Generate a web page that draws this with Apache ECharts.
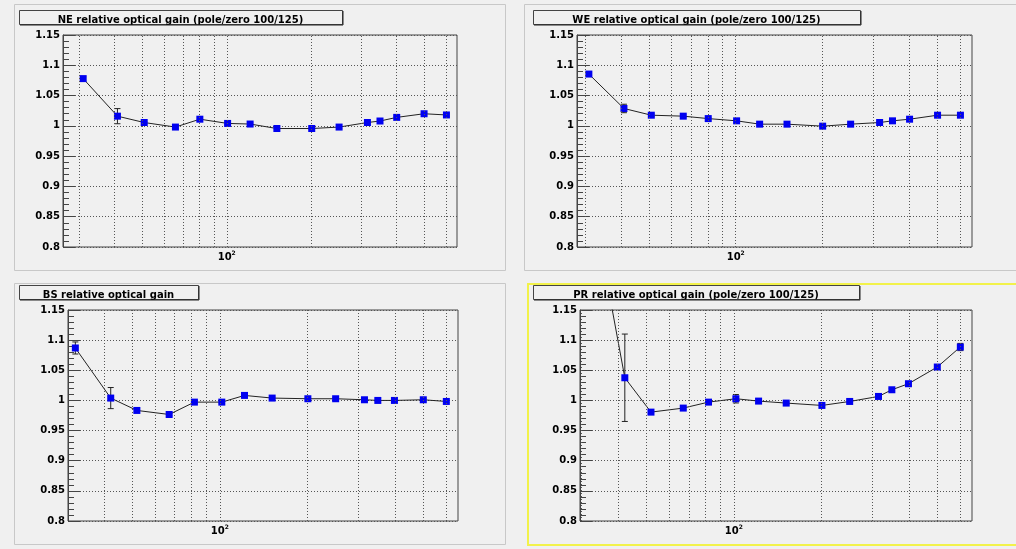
<!DOCTYPE html>
<html><head><meta charset="utf-8">
<script src="https://cdn.jsdelivr.net/npm/echarts@6/dist/echarts.min.js"></script>
<style>html,body{margin:0;padding:0;background:#f0f0f0}#c{width:1016px;height:549px}</style>
</head><body><div id="c"></div>
<script>
// ---- data ----
const freqsTop    = [31, 41, 51, 65.8, 80.3, 100.7, 121, 150.5, 200, 250, 315, 349, 400, 500, 600];
const freqsBottom = [31.9, 42.2, 51.9, 67, 81.8, 101.6, 121.6, 151.3, 200.7, 250, 314, 349, 398, 500, 600];
const neGain = [1.078, 1.016, 1.0055, 0.998, 1.011, 1.004, 1.003, 0.9956, 0.9956, 0.998, 1.0055, 1.008, 1.014, 1.020, 1.018];
const neErr  = [0.003, 0.0125, 0.002, 0.002, 0.002, 0.002, 0.002, 0.002, 0.002, 0.002, 0.002, 0.002, 0.002, 0.002, 0.002];
const weGain = [1.0855, 1.0287, 1.0176, 1.016, 1.012, 1.0083, 1.0028, 1.0028, 0.9995, 1.0028, 1.0055, 1.0083, 1.011, 1.0176, 1.0176];
const weErr  = [0.004, 0.007, 0.002, 0.002, 0.002, 0.002, 0.002, 0.002, 0.002, 0.002, 0.002, 0.002, 0.002, 0.002, 0.002];
const bsGain = [1.087, 1.0039, 0.9834, 0.9767, 0.9972, 0.9972, 1.0083, 1.0039, 1.0028, 1.0028, 1.0011, 1.0, 1.0, 1.0011, 0.9983];
const bsErr  = [0.01, 0.0175, 0.002, 0.002, 0.002, 0.002, 0.002, 0.002, 0.002, 0.002, 0.002, 0.002, 0.002, 0.002, 0.002];
const prGain = [1.355, 1.0376, 0.9806, 0.9873, 0.9972, 1.0028, 0.9989, 0.9956, 0.9917, 0.9983, 1.0066, 1.0177, 1.0277, 1.0554, 1.0886];
const prErr  = [0.02, 0.0725, 0.002, 0.002, 0.003, 0.007, 0.004, 0.002, 0.002, 0.002, 0.002, 0.002, 0.003, 0.004, 0.006];
const gridXValues = [30, 40, 50, 60, 70, 80, 90, 100, 200, 300, 400, 500, 600];
const yTicks = { min: 0.8, max: 1.15, step: 0.05 };
const titles = [
  'NE relative optical gain (pole/zero 100/125)',
  'WE relative optical gain (pole/zero 100/125)',
  'BS relative optical gain',
  'PR relative optical gain (pole/zero 100/125)'
];
const xRanges = [[26.3, 654], [28.2, 658], [30.1, 658], [29.6, 658]];

// ---- layout ----
const pads = [
  { grid: { left: 63, top: 35, width: 394, height: 212 }, box: [19, 10, 323, 14] },
  { grid: { left: 577, top: 35, width: 395, height: 212 }, box: [533, 10, 327, 14] },
  { grid: { left: 68, top: 310, width: 390, height: 211 }, box: [19, 285, 179, 14] },
  { grid: { left: 580, top: 310, width: 392, height: 211 }, box: [533, 285, 326, 14] }
];
const seriesData = [[freqsTop, neGain, neErr], [freqsTop, weGain, weErr], [freqsBottom, bsGain, bsErr], [freqsBottom, prGain, prErr]];
const FONT = '"DejaVu Sans", sans-serif';
const gridLineStyle = { color: '#555', width: 1, type: [1, 2] };

const grids = [], xAxes = [], yAxes = [], series = [], graphics = [];

pads.forEach((p, i) => {
  grids.push(Object.assign({ show: true, borderColor: '#444', borderWidth: 1, backgroundColor: 'transparent' }, p.grid));
  xAxes.push({
    gridIndex: i, type: 'log', logBase: 10, min: xRanges[i][0], max: xRanges[i][1],
    axisLine: { show: false }, axisTick: { show: false }, splitLine: { show: false },
    axisLabel: {
      margin: 3, showMinLabel: true, showMaxLabel: true,
      formatter: v => Math.abs(Math.log10(v) - 2) < 1e-6 ? '{b|10}{s|2}' : '',
      rich: {
        b: { fontFamily: FONT, fontWeight: 'bold', fontSize: 10, color: '#000', lineHeight: 12, verticalAlign: 'bottom' },
        s: { fontFamily: FONT, fontWeight: 'bold', fontSize: 6, color: '#000', lineHeight: 12, verticalAlign: 'top' }
      }
    }
  });
  yAxes.push({
    gridIndex: i, type: 'value', min: yTicks.min, max: yTicks.max, interval: yTicks.step,
    axisLine: { show: true, lineStyle: { color: '#444' } },
    axisTick: { show: true, inside: true, length: 12, lineStyle: { color: '#444' } },
    minorTick: { show: true, splitNumber: 5, length: 6, lineStyle: { color: '#444' } },
    splitLine: { show: true, lineStyle: gridLineStyle },
    axisLabel: { margin: 3, fontFamily: FONT, fontWeight: 'bold', fontSize: 10, color: '#000' }
  });
  const [xs, ys, es] = seriesData[i];
  series.push({
    type: 'custom', xAxisIndex: i, yAxisIndex: i, clip: true, z: 2, silent: true, animation: false,
    data: xs.map((x, k) => [x, ys[k], es[k]]),
    renderItem(params, api) {
      const x = api.value(0), y = api.value(1), e = api.value(2);
      const t = api.coord([x, y + e]), b = api.coord([x, y - e]);
      const c = 3, st = { stroke: '#222', lineWidth: 1 };
      return { type: 'group', children: [
        { type: 'line', shape: { x1: t[0], y1: t[1], x2: b[0], y2: b[1] }, style: st },
        { type: 'line', shape: { x1: t[0] - c, y1: t[1], x2: t[0] + c, y2: t[1] }, style: st },
        { type: 'line', shape: { x1: b[0] - c, y1: b[1], x2: b[0] + c, y2: b[1] }, style: st }
      ] };
    },
    markLine: {
      silent: true, symbol: ['none', 'none'], label: { show: false }, animation: false,
      lineStyle: gridLineStyle, emphasis: { disabled: true },
      data: gridXValues.map(v => ({ xAxis: v }))
    }
  });
  series.push({
    type: 'line', xAxisIndex: i, yAxisIndex: i, clip: true, z: 3, animation: false, silent: true,
    data: xs.map((x, k) => [x, ys[k]]),
    symbol: 'rect', symbolSize: 7, showAllSymbol: true,
    itemStyle: { color: '#0000f0' },
    lineStyle: { color: '#222', width: 1 }
  });
  // title box
  const [bx, by, bw, bh] = p.box;
  graphics.push({ type: 'rect', z: 10, shape: { x: bx + 0.5, y: by + 0.5, width: bw, height: bh },
    style: { fill: '#f0f0f0', stroke: '#444', lineWidth: 1 } });
  graphics.push({ type: 'line', z: 12, shape: { x1: bx + 1, y1: by + bh + 1, x2: bx + bw + 1, y2: by + bh + 1 },
    style: { stroke: '#222', lineWidth: 1 } });
  graphics.push({ type: 'line', z: 12, shape: { x1: bx + bw + 1, y1: by + 1, x2: bx + bw + 1, y2: by + bh + 1 },
    style: { stroke: '#222', lineWidth: 1 } });
  graphics.push({ type: 'text', z: 11, x: bx + bw / 2, y: by + 10,
    style: { text: titles[i], font: 'bold 10px ' + FONT, fill: '#000', textAlign: 'center', textVerticalAlign: 'middle' } });
});

// pad borders
const padRects = [[14, 4, 491, 266, '#c8c8c8'], [524, 4, 492, 266, '#c8c8c8'], [14, 283, 491, 261, '#c8c8c8']];
padRects.forEach(r => graphics.push({ type: 'rect', z: -1, shape: { x: r[0] + 0.5, y: r[1] + 0.5, width: r[2], height: r[3] },
  style: { fill: 'none', stroke: r[4], lineWidth: 1 } }));
graphics.push({ type: 'rect', z: 12, shape: { x: 528, y: 284, width: 495, height: 261 },
  style: { fill: 'none', stroke: '#f2f24a', lineWidth: 2 } });

const chart = echarts.init(document.getElementById('c'), null, { renderer: 'canvas' });
chart.setOption({
  backgroundColor: '#f0f0f0', animation: false,
  grid: grids, xAxis: xAxes, yAxis: yAxes, series: series, graphic: graphics
});
</script></body></html>
